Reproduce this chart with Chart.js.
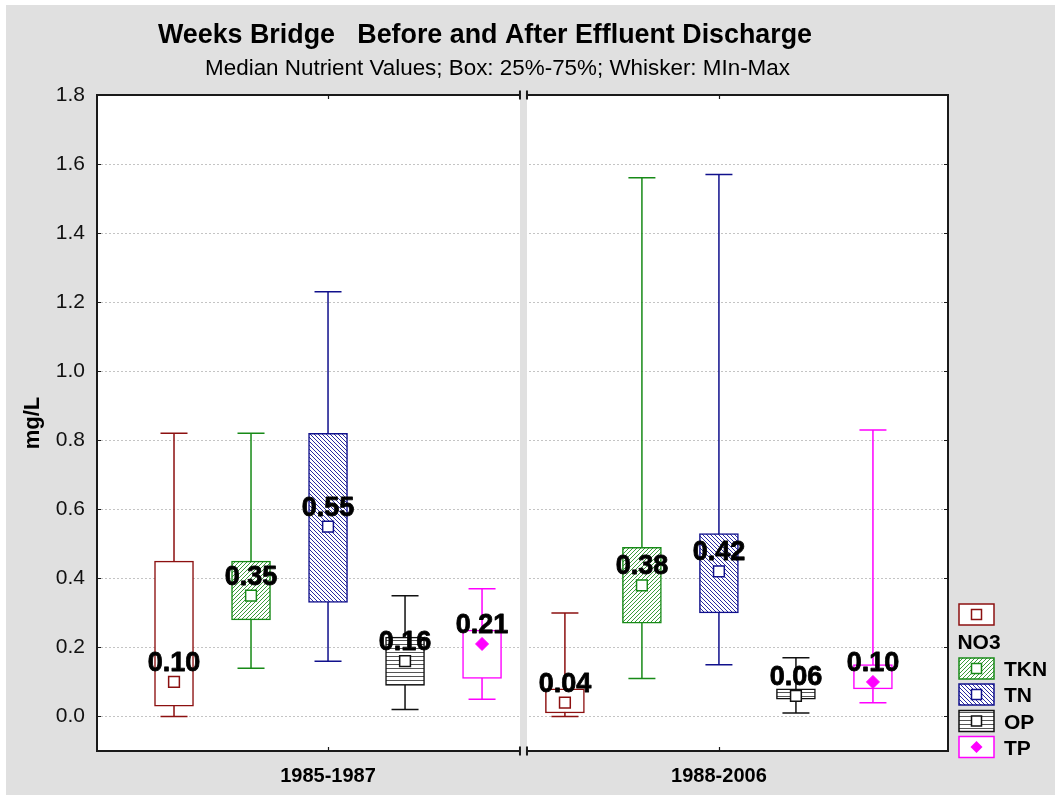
<!DOCTYPE html>
<html><head><meta charset="utf-8">
<script src="https://cdn.jsdelivr.net/npm/chart.js@4.4.1/dist/chart.umd.min.js"></script>
<style>html,body{margin:0;padding:0;background:#fff;}#wrap{width:1055px;height:795px;}</style>
</head><body><div id="wrap"><canvas id="c" width="1055" height="795"></canvas></div>
<script>
// ---------------- data ----------------
const categories = ['1985-1987', '1988-2006'];
const seriesNames = ['NO3', 'TKN', 'TN', 'OP', 'TP'];
const min1985    = [0.00, 0.14, 0.16, 0.02, 0.05];
const q1_1985    = [0.03, 0.28, 0.33, 0.09, 0.11];
const median1985 = [0.10, 0.35, 0.55, 0.16, 0.21];
const q3_1985    = [0.45, 0.45, 0.82, 0.23, 0.25];
const max1985    = [0.82, 0.82, 1.23, 0.35, 0.37];
const min1988    = [0.00, 0.11, 0.15, 0.01, 0.04];
const q1_1988    = [0.01, 0.27, 0.30, 0.05, 0.08];
const median1988 = [0.04, 0.38, 0.42, 0.06, 0.10];
const q3_1988    = [0.08, 0.49, 0.53, 0.08, 0.15];
const max1988    = [0.30, 1.56, 1.57, 0.17, 0.83];
const yTicks = [0.0, 0.2, 0.4, 0.6, 0.8, 1.0, 1.2, 1.4, 1.6, 1.8];
const chartTitle = 'Weeks Bridge   Before and After Effluent Discharge';
const chartSubtitle = 'Median Nutrient Values; Box: 25%-75%; Whisker: MIn-Max';
const yAxisTitle = 'mg/L';

// ---------------- styling ----------------
const FONT = '"Liberation Sans", Arial, Helvetica, sans-serif';
const colors = ['#8c1010', '#178a17', '#10108c', '#111111', '#ff00ff'];
const hatchColors = [null, '#3c9a3c', '#2a2aa0', '#555555', null];
const hatchKinds = [null, 'fwd', 'back', 'horiz', null];
const SPACING = 0.197;           // offset between boxes within a period (x units)
const XMIN = -0.591, XMAX = 1.586;
const BOX_W = 39, CAP_HALF = 13.5;

const stats = [
  {min: min1985, q1: q1_1985, med: median1985, q3: q3_1985, max: max1985},
  {min: min1988, q1: q1_1988, med: median1988, q3: q3_1988, max: max1988}
];
function xPos(g, s) { return g + (s - 2) * SPACING; }

const canvas = document.getElementById('c');
const mainCtx = canvas.getContext('2d');
function makePattern(kind, color) {
  if (!kind) return '#ffffff';
  const n = 4;
  const c = document.createElement('canvas'); c.width = n; c.height = n;
  const x = c.getContext('2d');
  x.fillStyle = '#fff'; x.fillRect(0, 0, n, n);
  x.fillStyle = color;
  for (let i = 0; i < n; i++) for (let j = 0; j < n; j++) {
    let on = false;
    if (kind === 'fwd') on = ((i + j) % n) === 0;
    else if (kind === 'back') on = ((i - j + n) % n) === 0;
    else if (kind === 'horiz') on = (j % n) === 0;
    if (on) x.fillRect(i, j, 1, 1);
  }
  return mainCtx.createPattern(c, 'repeat');
}
const patterns = seriesNames.map((_, s) => makePattern(hatchKinds[s], hatchColors[s]));

const boxDatasets = seriesNames.map((name, s) => ({
  type: 'bar', label: name, order: 2,
  data: categories.map((c, g) => ({x: xPos(g, s), y: [stats[g].q1[s], stats[g].q3[s]]})),
  backgroundColor: patterns[s], borderColor: colors[s], borderWidth: 1.5,
  borderSkipped: false, barThickness: BOX_W, grouped: false
}));
const medianDatasets = seriesNames.map((name, s) => ({
  type: 'scatter', label: name + ' median', order: 1,
  data: categories.map((c, g) => ({x: xPos(g, s), y: stats[g].med[s]})),
  pointStyle: s === 4 ? 'rectRot' : 'rect',
  pointRadius: s === 4 ? 6.5 : 7.6,
  backgroundColor: s === 4 ? colors[4] : '#ffffff',
  borderColor: colors[s], borderWidth: s === 4 ? 1 : 1.5
}));

const boxPlugin = {
  id: 'boxdeco',
  beforeDraw(chart) {
    const ctx = chart.ctx, ca = chart.chartArea;
    ctx.save();
    ctx.fillStyle = '#ffffff'; ctx.fillRect(0, 0, chart.width, chart.height);
    ctx.fillStyle = '#e0e0e0'; ctx.fillRect(6, 5, chart.width - 6, chart.height - 5);
    ctx.fillStyle = '#ffffff'; ctx.fillRect(ca.left, ca.top, ca.right - ca.left, ca.bottom - ca.top);
    ctx.restore();
  },
  beforeDatasetsDraw(chart) {
    const ctx = chart.ctx, xs = chart.scales.x, ys = chart.scales.y;
    ctx.save();
    ctx.lineWidth = 1.5;
    stats.forEach((st, g) => {
      seriesNames.forEach((n, s) => {
        const px = xs.getPixelForValue(xPos(g, s));
        const yMin = ys.getPixelForValue(st.min[s]), yMax = ys.getPixelForValue(st.max[s]);
        ctx.strokeStyle = colors[s];
        ctx.beginPath();
        ctx.moveTo(px, yMin); ctx.lineTo(px, yMax);
        ctx.moveTo(px - CAP_HALF, yMin); ctx.lineTo(px + CAP_HALF, yMin);
        ctx.moveTo(px - CAP_HALF, yMax); ctx.lineTo(px + CAP_HALF, yMax);
        ctx.stroke();
      });
    });
    ctx.restore();
  },
  afterDatasetsDraw(chart) {
    const ctx = chart.ctx, xs = chart.scales.x, ys = chart.scales.y;
    ctx.save();
    ctx.font = 'bold 27px ' + FONT;
    ctx.textAlign = 'center'; ctx.textBaseline = 'alphabetic';
    ctx.fillStyle = '#000'; ctx.strokeStyle = '#000'; ctx.lineWidth = 0.8; ctx.lineJoin = 'round';
    stats.forEach((st, g) => {
      seriesNames.forEach((n, s) => {
        const px = xs.getPixelForValue(xPos(g, s));
        const py = ys.getPixelForValue(st.med[s]);
        const t = st.med[s].toFixed(2);
        ctx.fillText(t, px, py - 11);
        ctx.strokeText(t, px, py - 11);
      });
    });
    ctx.restore();
  },
  afterDraw(chart) {
    const ctx = chart.ctx, ca = chart.chartArea, xs = chart.scales.x, ys = chart.scales.y;
    ctx.save();
    // frame
    ctx.strokeStyle = '#1a1a1a'; ctx.lineWidth = 2;
    ctx.strokeRect(ca.left, ca.top, ca.right - ca.left, ca.bottom - ca.top);
    // inner tick marks
    ctx.lineWidth = 1.2;
    ctx.beginPath();
    yTicks.forEach(v => {
      const py = Math.round(ys.getPixelForValue(v)) + 0.5;
      ctx.moveTo(ca.left, py); ctx.lineTo(ca.left + 4, py);
      ctx.moveTo(ca.right - 4, py); ctx.lineTo(ca.right, py);
    });
    categories.forEach((c, g) => {
      const px = Math.round(xs.getPixelForValue(g)) + 0.5;
      ctx.moveTo(px, ca.top); ctx.lineTo(px, ca.top + 4);
      ctx.moveTo(px, ca.bottom); ctx.lineTo(px, ca.bottom - 4);
    });
    ctx.stroke();
    // axis break between periods
    const gc = xs.getPixelForValue(0.5);
    ctx.fillStyle = '#e0e0e0';
    ctx.fillRect(gc - 3.5, ca.top - 1.5, 7, ca.bottom - ca.top + 3);
    ctx.lineWidth = 2; ctx.strokeStyle = '#1a1a1a';
    ctx.beginPath();
    [ca.top, ca.bottom].forEach(yy => {
      ctx.moveTo(gc - 3.5, yy - 4.5); ctx.lineTo(gc - 3.5, yy + 4.5);
      ctx.moveTo(gc + 3.5, yy - 4.5); ctx.lineTo(gc + 3.5, yy + 4.5);
    });
    ctx.stroke();
    // titles
    ctx.fillStyle = '#000'; ctx.textAlign = 'center'; ctx.textBaseline = 'alphabetic';
    drawSized(ctx, chartTitle, 'bold', 485, 43, 654);
    drawSized(ctx, chartSubtitle, '', 497.5, 75, 585);
    // y axis title
    ctx.save();
    ctx.translate(39, 423); ctx.rotate(-Math.PI / 2);
    ctx.font = 'bold 22px ' + FONT; ctx.textAlign = 'center';
    ctx.fillText(yAxisTitle, 0, 0);
    ctx.restore();
    // legend
    const lx = 959, iw = 35, ih = 21;
    const rows = [604, 658, 684, 710.5, 736.5];
    ctx.font = 'bold 21px ' + FONT;
    seriesNames.forEach((n, s) => {
      const ty = rows[s];
      ctx.fillStyle = patterns[s];
      ctx.fillRect(lx, ty, iw, ih);
      ctx.strokeStyle = colors[s]; ctx.lineWidth = 1.5;
      ctx.strokeRect(lx, ty, iw, ih);
      const cx = lx + iw / 2, cy = ty + ih / 2;
      if (s === 4) {
        ctx.fillStyle = colors[4];
        ctx.beginPath();
        ctx.moveTo(cx, cy - 6); ctx.lineTo(cx + 6, cy); ctx.lineTo(cx, cy + 6); ctx.lineTo(cx - 6, cy);
        ctx.closePath(); ctx.fill();
      } else {
        ctx.fillStyle = '#fff';
        ctx.fillRect(cx - 5, cy - 5, 10, 10);
        ctx.strokeRect(cx - 5, cy - 5, 10, 10);
      }
      ctx.fillStyle = '#000';
      if (s === 0) {
        ctx.textAlign = 'center';
        ctx.fillText(n, 979, 649);
      } else {
        ctx.textAlign = 'left';
        ctx.fillText(n, 1004, cy + 7.5);
      }
    });
    ctx.restore();
  }
};
// choose the font size so the text spans the given width
function drawSized(ctx, text, weight, cx, baseline, targetW) {
  ctx.save();
  ctx.font = weight + ' 20px ' + FONT;
  const w = ctx.measureText(text).width;
  const size = 20 * targetW / w;
  ctx.font = weight + ' ' + size.toFixed(2) + 'px ' + FONT;
  ctx.textAlign = 'center';
  ctx.fillText(text, cx, baseline);
  ctx.restore();
}

new Chart(canvas, {
  type: 'bar',
  data: {datasets: [...boxDatasets, ...medianDatasets]},
  options: {
    responsive: false, animation: false, devicePixelRatio: 1,
    layout: {padding: {top: 95, right: 107, left: 0, bottom: 0}},
    plugins: {legend: {display: false}, tooltip: {enabled: false}, title: {display: false}},
    scales: {
      x: {
        type: 'linear', min: XMIN, max: XMAX, offset: false,
        afterBuildTicks(scale) { scale.ticks = categories.map((c, i) => ({value: i})); },
        afterFit(scale) { scale.height = 44; },
        grid: {display: false, drawTicks: false}, border: {display: false},
        ticks: {
          padding: 13, color: '#000', font: {family: FONT, size: 20, weight: 'bold'},
          autoSkip: false, maxRotation: 0,
          callback: (v, i) => categories[i]
        }
      },
      y: {
        type: 'linear', min: -0.1, max: 1.8,
        afterBuildTicks(scale) { scale.ticks = yTicks.map(v => ({value: v})); },
        afterFit(scale) { scale.width = 97; },
        grid: {color: '#c4c4c4', lineWidth: 1, drawTicks: false},
        border: {display: false, dash: [2, 2]},
        ticks: {
          padding: 12, color: '#111', font: {family: FONT, size: 21},
          callback: v => Number(v).toFixed(1)
        }
      }
    }
  },
  plugins: [boxPlugin]
});
</script></body></html>
